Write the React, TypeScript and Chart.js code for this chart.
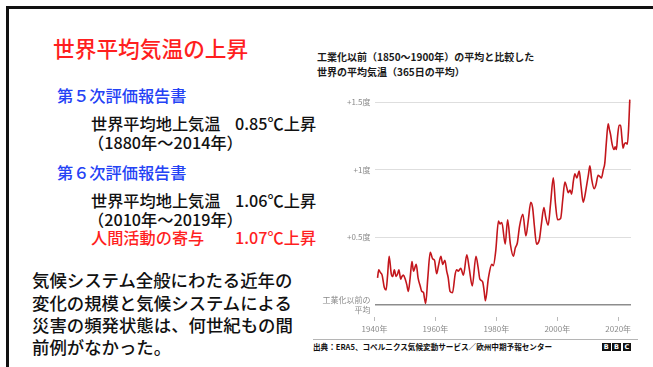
import React, { useEffect, useRef } from "react";
import { Chart, registerables } from "chart.js";

Chart.register(...registerables);

const years = [
  1941.0, 1941.4, 1941.9, 1942.5, 1943.2, 1943.8, 1944.3, 1944.8, 1945.5, 1946.0,
  1946.5, 1947.1, 1947.6, 1948.0, 1948.6, 1949.0, 1949.5, 1950.1, 1950.6, 1951.1,
  1951.7, 1952.3, 1952.8, 1953.7, 1954.3, 1955.0, 1955.5, 1956.1, 1956.4, 1956.8,
  1957.5, 1958.3, 1959.1, 1959.7, 1960.4, 1961.0, 1961.8, 1962.4, 1963.1, 1963.7,
  1964.2, 1964.8, 1965.6, 1966.5, 1967.0, 1967.5, 1968.3, 1969.2, 1970.3, 1971.1,
  1972.1, 1973.3, 1974.0, 1974.6, 1975.5, 1976.0, 1976.4, 1977.4, 1978.5, 1979.0,
  1979.8, 1980.7, 1981.2, 1981.8, 1982.9, 1983.7, 1984.6, 1985.6, 1986.2, 1986.9,
  1987.6, 1988.7, 1989.7, 1990.5, 1991.3, 1991.9, 1992.5, 1993.2, 1994.1, 1994.8,
  1995.6, 1996.2, 1997.0, 1997.8, 1998.7, 1999.4, 2000.1, 2001.1, 2001.8, 2002.5,
  2003.1, 2003.6, 2004.2, 2004.7, 2005.3, 2005.8, 2006.4, 2007.2, 2007.8, 2008.5,
  2009.0, 2009.6, 2010.2, 2010.7, 2011.3, 2012.1, 2012.7, 2013.4, 2014.0, 2014.5,
  2015.1, 2015.6, 2016.1, 2016.7, 2017.1, 2017.5, 2018.0, 2018.6, 2019.0, 2019.4,
  2019.8, 2020.3, 2020.8, 2021.2, 2021.6, 2022.0, 2022.5, 2023.0, 2023.4, 2023.8,
];

const anomalies = [
  0.20, 0.26, 0.24, 0.22, 0.13, 0.11, 0.22, 0.36, 0.23, 0.21,
  0.26, 0.21, 0.23, 0.26, 0.19, 0.21, 0.22, 0.19, 0.15, 0.10,
  0.20, 0.32, 0.25, 0.30, 0.20, 0.14, 0.10, 0.09, 0.05, 0.01,
  0.20, 0.39, 0.34, 0.33, 0.23, 0.29, 0.36, 0.30, 0.33, 0.25,
  0.20, 0.10, 0.09, 0.23, 0.26, 0.25, 0.27, 0.22, 0.37, 0.27,
  0.14, 0.36, 0.28, 0.19, 0.17, 0.10, 0.03, 0.20, 0.30, 0.29,
  0.40, 0.62, 0.60, 0.61, 0.45, 0.63, 0.45, 0.36, 0.42, 0.46,
  0.58, 0.67, 0.51, 0.63, 0.76, 0.72, 0.58, 0.45, 0.48, 0.60,
  0.72, 0.65, 0.59, 0.75, 0.94, 0.75, 0.63, 0.64, 0.78, 0.91,
  0.87, 0.83, 0.85, 0.82, 0.92, 0.97, 0.94, 0.99, 0.88, 0.76,
  0.80, 0.88, 0.96, 1.03, 0.93, 0.86, 0.89, 0.96, 0.95, 0.94,
  1.00, 1.05, 1.20, 1.34, 1.30, 1.26, 1.19, 1.15, 1.17, 1.15,
  1.25, 1.33, 1.33, 1.24, 1.16, 1.19, 1.20, 1.19, 1.30, 1.52,
];

const xTickYears = [1940, 1960, 1980, 2000, 2020];
const xTickLabels = ["1940年", "1960年", "1980年", "2000年", "2020年"];
const yTickValues = [0, 0.5, 1, 1.5];
const yTickLabels: (string | string[])[] = [["工業化以前の", "平均"], "+0.5度", "+1度", "+1.5度"];

const chartTitle = ["工業化以前（1850～1900年）の平均と比較した", "世界の平均気温（365日の平均）"];
const sourceText = "出典：ERA5、コペルニクス気候変動サービス／欧州中期予報センター";

const FONT = "'Noto Sans CJK JP', 'Noto Sans', sans-serif";

function TempChart() {
  const ref = useRef<HTMLCanvasElement | null>(null);
  useEffect(() => {
    if (!ref.current) return;
    const points = years.map((x, i) => ({ x, y: anomalies[i] }));
    const chart = new Chart(ref.current, {
      type: "line",
      data: {
        datasets: [
          {
            data: points,
            borderColor: "#c3161c",
            borderWidth: 1.6,
            pointRadius: 0,
            fill: false,
            cubicInterpolationMode: "monotone",
          },
        ],
      },
      options: {
        responsive: false,
        animation: false,
        layout: { padding: { top: 0, right: 9, bottom: 0, left: 0 } },
        plugins: {
          legend: { display: false },
          tooltip: { enabled: false },
          title: { display: false },
        },
        scales: {
          x: {
            type: "linear",
            min: 1940,
            max: 2024.2,
            afterBuildTicks: (scale: any) => {
              scale.ticks = xTickYears.map((v) => ({ value: v }));
            },
            afterFit: (scale: any) => {
              scale.height = 20;
            },
            border: { display: false },
            grid: {
              drawOnChartArea: false,
              drawTicks: true,
              tickLength: 4,
              color: "#bbbbbb",
            },
            ticks: {
              padding: 3,
              color: "#8a8a8a",
              font: { family: FONT, size: 8 },
              maxRotation: 0,
              callback: (v: any) => {
                const i = xTickYears.indexOf(Number(v));
                return i >= 0 ? xTickLabels[i] : "";
              },
            },
          },
          y: {
            type: "linear",
            min: -0.09,
            max: 1.6,
            afterBuildTicks: (scale: any) => {
              scale.ticks = yTickValues.map((v) => ({ value: v }));
            },
            afterFit: (scale: any) => {
              scale.width = 74.5;
            },
            border: { display: false },
            grid: {
              drawTicks: false,
              color: (ctx: any) => (ctx.tick && ctx.tick.value === 0 ? "#8d8d8d" : "#dedede"),
              lineWidth: (ctx: any) => (ctx.tick && ctx.tick.value === 0 ? 1.6 : 1),
            },
            ticks: {
              padding: 4,
              color: "#8a8a8a",
              font: { family: FONT, size: 8, lineHeight: 1.2 },
              callback: (v: any) => {
                const i = yTickValues.indexOf(Number(v));
                return i >= 0 ? yTickLabels[i] : "";
              },
            },
          },
        },
      } as any,
    });
    return () => chart.destroy();
  }, []);
  return (
    <canvas
      ref={ref}
      width={340}
      height={257}
      style={{ position: "absolute", left: 300, top: 80, width: 340, height: 257 }}
    />
  );
}

const abs = (left: number, centerY: number, size: number, extra: any = {}) => ({
  position: "absolute" as const,
  left,
  top: centerY - size / 2,
  fontSize: size,
  lineHeight: 1,
  whiteSpace: "nowrap" as const,
  fontFamily: FONT,
  ...extra,
});

export default function App() {
  const red = "#ff1f1f";
  const blue = "#2442f5";
  const black = "#111";
  const mid = { fontWeight: 500 };
  return (
    <div
      style={{
        position: "absolute",
        left: 0,
        top: 0,
        width: 653,
        height: 367,
        overflow: "hidden",
        background: "#fff",
        fontFamily: FONT,
      }}
    >
      <div
        style={{
          position: "absolute",
          left: 6,
          top: 6,
          right: 0,
          bottom: 0,
          borderTop: "3px solid #111",
          borderLeft: "3px solid #111",
        }}
      />
      <div style={abs(53, 48, 21.7, { color: red, ...mid })}>世界平均気温の上昇</div>

      <div style={abs(57, 95, 16.2, { color: blue, ...mid })}>第５次評価報告書</div>
      <div style={abs(91, 123, 16.2, { color: black, ...mid })}>世界平均地上気温</div>
      <div style={abs(235, 123, 16.2, { color: black, ...mid })}>0.85℃上昇</div>
      <div style={abs(88, 142, 16.2, { color: black, ...mid })}>（1880年～2014年）</div>

      <div style={abs(57, 172, 16.2, { color: blue, ...mid })}>第６次評価報告書</div>
      <div style={abs(91, 200, 16.2, { color: black, ...mid })}>世界平均地上気温</div>
      <div style={abs(235, 200, 16.2, { color: black, ...mid })}>1.06℃上昇</div>
      <div style={abs(88, 219, 16.2, { color: black, ...mid })}>（2010年～2019年）</div>
      <div style={abs(91, 237.5, 16.2, { color: red, ...mid })}>人間活動の寄与</div>
      <div style={abs(235, 237.5, 16.2, { color: red, ...mid })}>1.07℃上昇</div>

      <div style={abs(32, 280, 17.4, { color: black, ...mid })}>気候システム全般にわたる近年の</div>
      <div style={abs(32, 302.5, 17.4, { color: black, ...mid })}>変化の規模と気候システムによる</div>
      <div style={abs(32, 325, 17.4, { color: black, ...mid })}>災害の頻発状態は、何世紀もの間</div>
      <div style={abs(32, 347, 17.4, { color: black, ...mid })}>前例がなかった。</div>

      <div style={abs(317, 57, 10, { color: "#1a1a1a", fontWeight: 700 })}>{chartTitle[0]}</div>
      <div style={abs(317, 71.5, 10, { color: "#1a1a1a", fontWeight: 700 })}>{chartTitle[1]}</div>

      <TempChart />

      <div
        style={{
          position: "absolute",
          left: 313,
          top: 338.5,
          width: 325,
          height: 0,
          borderTop: "1.5px solid #b5b5b5",
        }}
      />
      <div style={abs(313, 346.5, 7.6, { color: "#111", fontWeight: 700 })}>{sourceText}</div>
      {["B", "B", "C"].map((ch, i) => (
        <div
          key={i}
          style={{
            position: "absolute",
            left: 602 + i * 10.3,
            top: 342.5,
            width: 8.5,
            height: 8.5,
            background: "#111",
            color: "#fff",
            fontFamily: "'DejaVu Sans', sans-serif",
            fontWeight: 700,
            fontSize: 6.5,
            lineHeight: "8.5px",
            textAlign: "center",
          }}
        >
          {ch}
        </div>
      ))}
    </div>
  );
}
